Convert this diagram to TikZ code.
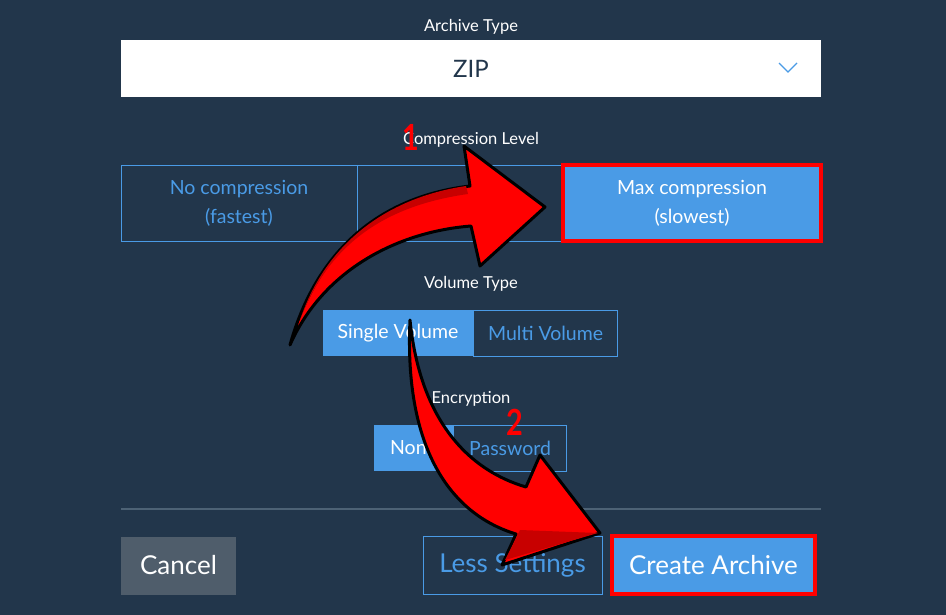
\documentclass[tikz,border=0pt]{standalone}
\usepackage{fontspec}
\setmainfont{Lato}
\usepackage{tikz}
\usetikzlibrary{positioning}
\definecolor{bgdark}{HTML}{22364B}
\definecolor{uiblue}{HTML}{4A9BE6}
\definecolor{sepgray}{HTML}{4D6275}
\definecolor{btngray}{HTML}{4F5D6B}
\definecolor{zipdark}{HTML}{22364B}
\definecolor{hotred}{HTML}{FF0000}
\definecolor{darkred}{HTML}{C80000}

\begin{document}
\begin{tikzpicture}[x=1pt,y=-1pt]
        \tikzstyle{caption}=[text=white, font=\fontsize{16.5}{19}\selectfont]
        \tikzstyle{optbox}=[draw=uiblue, line width=0.8pt, text=uiblue, font=\fontsize{19.5}{29}\selectfont, align=center, inner sep=0pt]
        \tikzstyle{optsel}=[fill=uiblue, text=white, font=\fontsize{19.5}{29}\selectfont, align=center, inner sep=0pt]
        \tikzstyle{bigbtn}=[font=\fontsize{26}{28}\selectfont, inner sep=0pt]
        \tikzstyle{redmark}=[draw=hotred, line width=3.5pt]
        \tikzstyle{bigarrow}=[fill=hotred, draw=black, line width=3pt, line join=round]
        \tikzstyle{stepnum}=[text=hotred, font=\fontsize{36}{36}\selectfont\bfseries, xscale=0.8]

        \fill[bgdark] (0,0) rectangle (946,615);
        \useasboundingbox (0,0) rectangle (946,615);

        % archive type
        \node (archcap) [caption] at (471,27) {Archive Type};
        \node (zipbox) [fill=white, minimum width=700pt, minimum height=57pt, inner sep=0pt,
            text=zipdark, font=\fontsize{24}{26}\selectfont] at (471,68.5) {ZIP};
        \draw[uiblue, line width=1.3pt] (779,63) -- (788,72) -- (797,63);

        % compression level
        \node (compcap) [caption] at (471,140) {Compression Level};
        \node (nocomp) [optbox, minimum width=236pt, minimum height=76pt] at (239,203) {No compression\\(fastest)};
        \node (midcomp) [optbox, minimum width=206pt, minimum height=76pt] at (460,203) {};
        \node (maxcomp) [optsel, minimum width=258pt, minimum height=76pt] at (692,203) {Max compression\\(slowest)};
        \draw[redmark] (maxcomp.north west) rectangle (maxcomp.south east);

        % volume type
        \node (volcap) [caption] at (471,284) {Volume Type};
        \node (single) [optsel, minimum width=150pt, minimum height=46pt] at (398,333) {Single Volume};
        \node (multi) [optbox, minimum width=144pt, minimum height=46pt, right=0pt of single] {Multi Volume};

        % encryption
        \node (enccap) [caption] at (471,399) {Encryption};
        \node (nonebtn) [optsel, minimum width=79pt, minimum height=46pt] at (413.5,448) {None};
        \node (pwbtn) [optbox, minimum width=113pt, minimum height=46pt, right=0pt of nonebtn] {Password};

        \draw[sepgray, line width=1.5pt] (121,509) -- (821,509);

        % buttons
        \node (cancel) [bigbtn, fill=btngray, text=white, minimum width=115pt, minimum height=58pt] at (178.5,565.5) {Cancel};
        \node (less) [bigbtn, draw=uiblue, line width=0.8pt, text=uiblue, minimum width=179pt, minimum height=58pt] at (512.5,565) {Less Settings};
        \node (create) [bigbtn, fill=uiblue, text=white, minimum width=203pt, minimum height=58pt] at (713.5,565) {Create Archive};
        \draw[redmark] (create.north west) rectangle (create.south east);

        % arrow 1
        \draw[bigarrow] (290,345) .. controls (318,245) and (385,196) .. (470,186)
            -- (464,146) -- (545,207) -- (480,266) -- (471,226)
            .. controls (395,232) and (322,272) .. cycle;
        \fill[darkred] (300,320) .. controls (330,240) and (390,205) .. (468,194)
            -- (466,186) .. controls (385,198) and (325,245) .. cycle;
        % arrow 2
        \draw[bigarrow] (410,320) .. controls (404,448) and (450,514) .. (516,534)
            -- (502,565) -- (600,533) -- (540,455) -- (526,487)
            .. controls (468,470) and (420,420) .. cycle;
        \fill[darkred] (520,530) -- (505,560) -- (598,533) -- cycle;

        \node (one) [stepnum] at (411,137) {1};
        \node (two) [stepnum] at (515,422) {2};
\end{tikzpicture}
\end{document}
